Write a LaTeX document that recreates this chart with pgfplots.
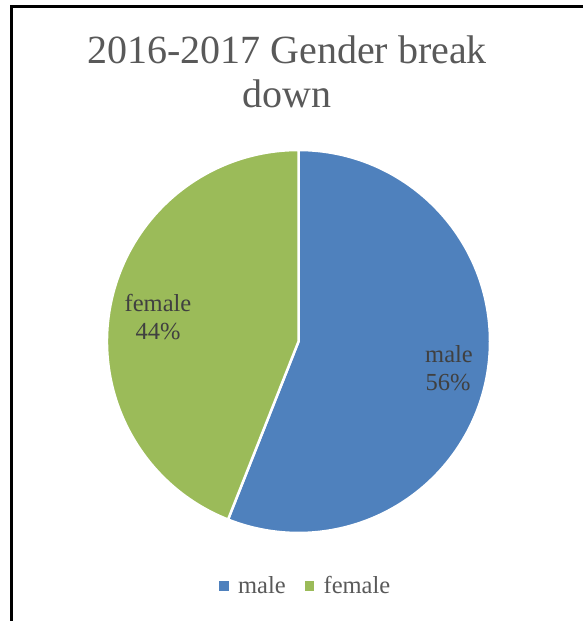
\documentclass[border=0pt]{standalone}
\usepackage{pgfplots}
\pgfplotsset{compat=1.18}
\usepackage{pgfplotstable}
\usepackage{fontspec}
\setmainfont{Liberation Serif}
\definecolor{male}{HTML}{4F81BD}
\definecolor{female}{HTML}{9BBB59}
\definecolor{titlegray}{HTML}{595959}
\definecolor{labgray}{HTML}{404040}

\pgfplotstableread{
label value
male 56
female 44
}\piedata
\pgfplotstablegetelem{0}{value}\of\piedata \let\vmale\pgfplotsretval
\pgfplotstablegetelem{1}{value}\of\piedata \let\vfemale\pgfplotsretval
\pgfmathsetmacro\fracMale{\vmale/(\vmale+\vfemale)}
\pgfmathsetmacro\aStart{90}
\pgfmathsetmacro\aMid{90-360*\fracMale}
\pgfmathsetmacro\aEnd{90-360}
\pgfmathsetmacro\cMid{cos(\aMid)}
\pgfmathsetmacro\sMid{sin(\aMid)}

\begin{document}
\begin{tikzpicture}[x=1pt,y=1pt]
\useasboundingbox (0,0) rectangle (583,621);
\begin{axis}[
  at={(298.5pt,279.5pt)}, anchor=center,
  width=383pt, height=383pt, scale only axis,
  xmin=-1, xmax=1, ymin=-1, ymax=1,
  hide axis, clip=false,
  legend columns=2,
  legend style={draw=none, fill=none, inner sep=0pt, at={(0.2924,-0.138)}, anchor=west,
    font=\fontsize{24.5}{28}\selectfont, text=titlegray,
    /tikz/every odd column/.append style={column sep=8pt},
    /tikz/every even column/.append style={column sep=17pt},
    cells={anchor=west}},
  legend image code/.code={\fill[#1] (0pt,-4.25pt) rectangle (8.5pt,4.25pt);},
]
\addlegendimage{male}
\addlegendentry{male}
\addlegendimage{female}
\addlegendentry{female}
\fill[male, draw=white, line width=2.5pt, line join=round]
  (axis cs:0,0) -- (axis cs:0,1) arc[start angle=\aStart, end angle=\aMid, radius=191.5pt] -- cycle;
\fill[female, draw=white, line width=2.5pt, line join=round]
  (axis cs:0,0) -- (axis cs:\cMid,\sMid) arc[start angle=\aMid, end angle=\aEnd, radius=191.5pt] -- cycle;
\end{axis}
\draw[line width=3.5pt] (11.25,0) -- (11.25,614.5) -- (583,614.5);
\node[anchor=base, text=titlegray, font=\fontsize{40}{45}\selectfont, inner sep=0pt] at (287,557) {2016-2017 Gender break};
\node[anchor=base, text=titlegray, font=\fontsize{40}{45}\selectfont, inner sep=0pt] at (287,513) {down};
\node[anchor=base, text=labgray, font=\fontsize{24.5}{28}\selectfont, inner sep=0pt] at (158,309) {female};
\node[anchor=base, text=labgray, font=\fontsize{24.5}{28}\selectfont, inner sep=0pt] at (158,281) {44\%};
\node[anchor=base, text=labgray, font=\fontsize{24.5}{28}\selectfont, inner sep=0pt] at (449,258) {male};
\node[anchor=base, text=labgray, font=\fontsize{24.5}{28}\selectfont, inner sep=0pt] at (448,230) {56\%};
\end{tikzpicture}
\end{document}
